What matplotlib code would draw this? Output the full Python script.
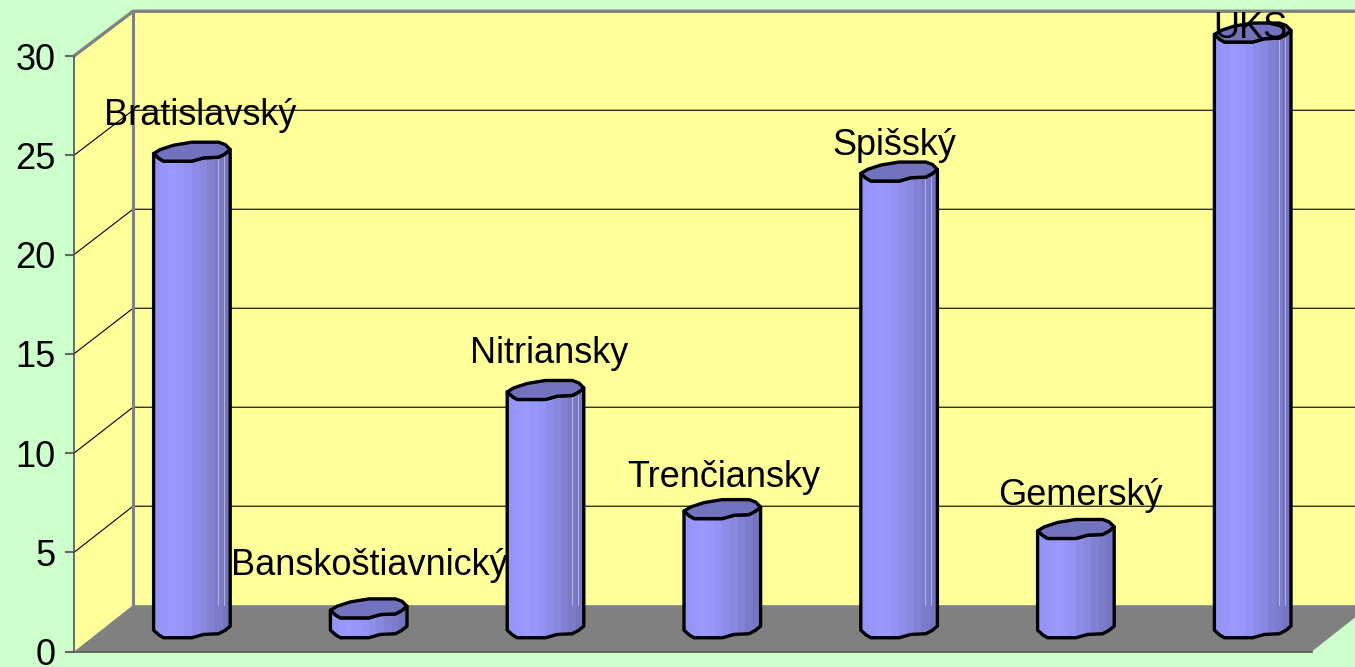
"""
3D style cylinder chart of Slovak regions
"""
import numpy as np
import matplotlib
matplotlib.use('Agg')
import matplotlib.pyplot as plt
from matplotlib.colors import LinearSegmentedColormap
from matplotlib.patches import Polygon

categories = ['Bratislavský', 'Banskoštiavnický', 'Nitriansky', 'Trenčiansky',
              'Spišský', 'Gemerský', 'UKS']
values = [24, 1, 12, 6, 23, 5, 30]
yticks = [0, 5, 10, 15, 20, 25, 30]

# label shift from top of the bar, in pixels
label_dx = [8, 1, 4, 2, -5, 4, -2]
label_dy = [36, 43, 37, 32, 26, 34, 4]

W, H = 1355, 667
PX_X = 176.8  # pixels per category
PX_Y = 595.7 / 30  # pixels per unit
DEPTH_X = 59 / PX_X
DEPTH_Y = 46.5 / PX_Y
BACK = 0.997  # back wall is a touch smaller than the front

# wobbly outline of the cylinder end, pixels from the centre
lower_edge = np.array([(-38.3, -1.7), (-33, -6.5), (-28.3, -9.3), (0, -9.3), (11.7, -6),
                       (26.7, -5.3), (33, -2), (38.3, 2.3)])
upper_edge = np.array([(33.3, 7.3), (26.7, 9.7), (0, 9.7), (-18.3, 6.7), (-31.7, 2.3)])

plt.rcParams['font.family'] = ['Liberation Sans', 'DejaVu Sans']

fig = plt.figure(figsize=(W / 100, H / 100), dpi=100, facecolor='#CCFFCC')
ax = fig.add_axes([74 / W, (H - 651.7) / H, 7 * PX_X / W, 595.7 / H])
ax.set_xlim(0, 7)
ax.set_ylim(0, 30)
ax.patch.set_visible(False)

back_top = DEPTH_Y + 30 * BACK

# walls and floor
ax.add_patch(Polygon([(DEPTH_X, DEPTH_Y), (7 + DEPTH_X, DEPTH_Y), (7 + DEPTH_X, back_top),
                      (DEPTH_X, back_top)], fc='#FFFF99', ec='none', clip_on=False, zorder=1))
ax.add_patch(Polygon([(0, 0), (DEPTH_X, DEPTH_Y), (DEPTH_X, back_top), (0, 30)],
                     fc='#FFFF99', ec='none', clip_on=False, zorder=1))
ax.add_patch(Polygon([(0, 0), (7, 0), (7 + DEPTH_X, DEPTH_Y), (DEPTH_X, DEPTH_Y)],
                     fc='#808080', ec='none', clip_on=False, zorder=1.5))

# grid
for t in yticks[1:-1]:
    by = DEPTH_Y + t * BACK
    ax.plot([0, DEPTH_X, 7 + DEPTH_X], [t, by, by], color='black',
            lw=0.8, clip_on=False, zorder=2)

# frame
ax.plot([0, DEPTH_X, 7 + DEPTH_X], [30, back_top, back_top], color='#808080',
        lw=2.4, clip_on=False, zorder=2.5)
ax.plot([DEPTH_X, DEPTH_X], [DEPTH_Y, back_top], color='#808080', lw=2.2,
        clip_on=False, zorder=2.5)

shade = LinearSegmentedColormap.from_list('cyl', [(0, '#9494F6'), (0.2, '#9999FF'),
                                                  (0.38, '#9696FA'), (0.7, '#8686DC'),
                                                  (1, '#7474C0')])

for i, (name, val) in enumerate(zip(categories, values)):
    cx = i + 0.5 + DEPTH_X / 2
    base = DEPTH_Y / 2
    top = base + val

    low_x = cx + lower_edge[:, 0] / PX_X
    low_y = lower_edge[:, 1] / PX_Y
    up_x = cx + upper_edge[:, 0] / PX_X
    up_y = upper_edge[:, 1] / PX_Y

    body_x = np.r_[low_x, low_x[::-1]]
    body_y = np.r_[top + low_y, base + low_y[::-1]]
    body = Polygon(np.c_[body_x, body_y], fc='none', ec='black', lw=2.4, joinstyle='round',
                   clip_on=False, zorder=4)
    ax.add_patch(body)

    # stepped shading across the cylinder
    xe = np.linspace(low_x[0], low_x[-1], 11)
    ye = np.array([base - 1, top + 1])
    c = ax.pcolormesh(xe, ye, np.linspace(0, 1, 10)[None, :], cmap=shade, vmin=0, vmax=1,
                      shading='flat', zorder=3)
    c.set_clip_box(None)
    c.set_clip_path(body)

    # faint seams on the tall cylinders, they stop at the floor
    if val >= 12:
        for dx in [26, 32]:
            ax.plot([cx + dx / PX_X] * 2, [DEPTH_Y, top - 5 / PX_Y], color='#B4B4E4', lw=0.7,
                    clip_on=False, zorder=3.5)

    ax.add_patch(Polygon(np.c_[np.r_[low_x, up_x], top + np.r_[low_y, up_y]], fc='#7272BE',
                         ec='black', lw=2.4, joinstyle='round', clip_on=False, zorder=5))

    ax.annotate(name, (cx, top), xytext=(label_dx[i] * 0.72, label_dy[i] * 0.72),
                textcoords='offset points', ha='center', va='center', fontsize=26,
                color='black', annotation_clip=False, zorder=6)

ax.set_xticks([])
ax.set_yticks(yticks)
ax.tick_params(axis='y', length=6.5, width=1.5, color='#666666', pad=7, labelsize=26,
               labelcolor='black')
for s in ['top', 'right']:
    ax.spines[s].set_visible(False)
for s in ['left', 'bottom']:
    ax.spines[s].set_color('#555555')
    ax.spines[s].set_linewidth(1.2)
    ax.spines[s].set_zorder(2.6)

fig.savefig('out.png', dpi=100, facecolor=fig.get_facecolor())
plt.close(fig)
